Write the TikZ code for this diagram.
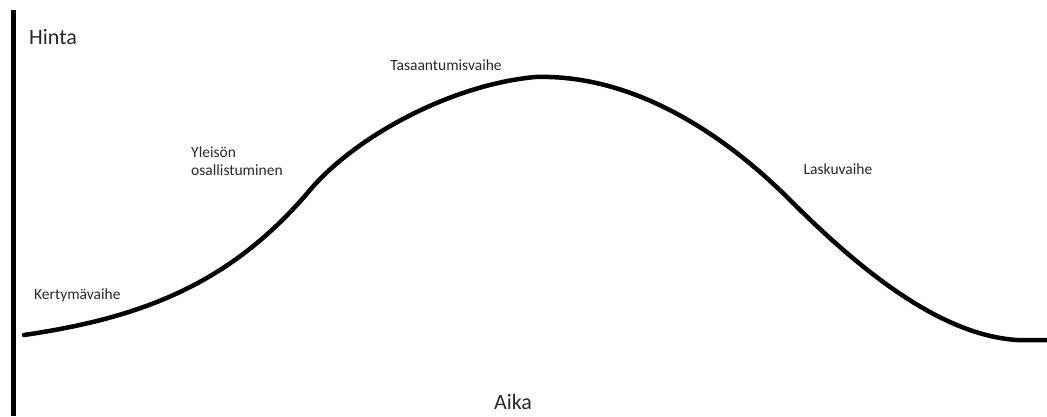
\documentclass[tikz,border=0pt]{standalone}
\usepackage{fontspec}
\setmainfont{Carlito}
\usetikzlibrary{positioning}
\definecolor{inkgray}{RGB}{40, 40, 40}

\begin{document}
\begin{tikzpicture}[
                x=1pt, y=-1pt,
                axisline/.style={line width=5pt, black},
                pricecurve/.style={line width=4.5pt, black, line cap=round, line join=round},
                biglabel/.style={font=\fontsize{22}{24}\selectfont, text=inkgray, inner sep=0pt},
                phase/.style={font=\fontsize{15.5}{18}\selectfont, text=inkgray, inner sep=0pt, align=left}
            ]
                \useasboundingbox (0, 0) rectangle (1047, 416);

                % Pystyakseli
                \draw[axisline] (13, 10) -- (13, 416);

                % Akselien nimet
                \node[biglabel, anchor=west] (hinta) at (29, 37) {Hinta};
                \node[biglabel] (aika) at (513, 402) {Aika};

                % Hintakäyrä
                \coordinate (alku) at (24, 335);
                \coordinate (nousu) at (310, 190);
                \coordinate (huippu) at (535, 77);
                \coordinate (lasku1) at (790, 200);
                \coordinate (pohja) at (1017, 340);
                \coordinate (loppu) at (1047, 340);
                \draw[pricecurve] (alku) .. controls (140, 318) and (230, 285) .. (nousu)
                    .. controls (355, 137) and (450, 85) .. (huippu)
                    .. controls (630, 74) and (720, 130) .. (lasku1)
                    .. controls (860, 270) and (940, 335) .. (pohja) -- (loppu);

                % Vaiheiden nimet
                \node[phase, anchor=west] (kertyma) at (34, 295) {Kertymävaihe};
                \node[phase, anchor=west] (yleiso) at (191, 161) {Yleisön\\osallistuminen};
                \node[phase] (tasaantuminen) at (446, 65) {Tasaantumisvaihe};
                \node[phase] (lasku) at (838, 169) {Laskuvaihe};
            \end{tikzpicture}
\end{document}
